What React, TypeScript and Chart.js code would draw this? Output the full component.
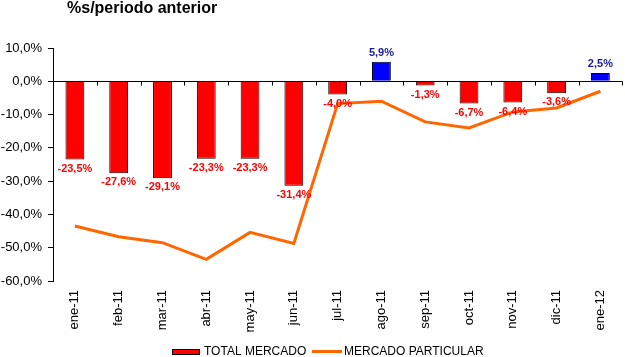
import React, { useEffect, useRef } from "react";
import { Chart, registerables } from "chart.js";

Chart.register(...registerables);

const categories = ["ene-11", "feb-11", "mar-11", "abr-11", "may-11", "jun-11", "jul-11", "ago-11", "sep-11", "oct-11", "nov-11", "dic-11", "ene-12"];
const totalMercado = [-23.5, -27.6, -29.1, -23.3, -23.3, -31.4, -4.0, 5.9, -1.3, -6.7, -6.4, -3.6, 2.5];
const mercadoParticular = [-43.5, -46.7, -48.5, -53.5, -45.4, -48.7, -6.7, -6.0, -12.2, -14.0, -9.2, -8.0, -3.0];
const yTicks = [10, 0, -10, -20, -30, -40, -50, -60];
const titleText = "%s/periodo anterior";
const legendLabels = ["TOTAL MERCADO", "MERCADO PARTICULAR"];

const FONT = "'Liberation Sans', Arial, sans-serif";
const RED = "#FF0000";
const BLUE = "#0000FF";
const ORANGE = "#FF6600";
const fmt = (v: number) => v.toFixed(1).replace(".", ",") + "%";

const overlayPlugin = {
  id: "overlay",
  afterDraw(chart: any) {
    const ctx = chart.ctx as CanvasRenderingContext2D;
    const area = chart.chartArea;
    const y = chart.scales.y;
    ctx.save();
    // zero line with ticks
    const y0 = Math.round(y.getPixelForValue(0)) + 0.5;
    ctx.strokeStyle = "#000";
    ctx.lineWidth = 1;
    ctx.beginPath();
    ctx.moveTo(area.left, y0);
    ctx.lineTo(area.right, y0);
    const step = (area.right - area.left) / categories.length;
    for (let i = 1; i <= categories.length; i++) {
      const tx = Math.round(area.left + step * i) + 0.5;
      ctx.moveTo(tx, y0);
      ctx.lineTo(tx, y0 + 4);
    }
    ctx.stroke();

    // data labels
    const meta = chart.getDatasetMeta(0);
    ctx.font = `bold 11px ${FONT}`;
    ctx.textAlign = "center";
    ctx.textBaseline = "middle";
    meta.data.forEach((bar: any, i: number) => {
      const v = totalMercado[i];
      if (v < 0) {
        ctx.fillStyle = RED;
        ctx.fillText(fmt(v), bar.x, bar.y + 9);
      } else {
        ctx.fillStyle = "#1a1a99";
        ctx.fillText(fmt(v), bar.x, bar.y - 9);
      }
    });

    // title
    ctx.font = `bold 16px ${FONT}`;
    ctx.fillStyle = "#000";
    ctx.textAlign = "left";
    ctx.textBaseline = "alphabetic";
    ctx.fillText(titleText, 67, 13);

    // legend
    ctx.font = `12px ${FONT}`;
    ctx.textBaseline = "alphabetic";
    const baseline = 354.5;
    ctx.fillStyle = RED;
    ctx.fillRect(172, 349, 28, 6);
    ctx.strokeStyle = "#000";
    ctx.lineWidth = 1;
    ctx.strokeRect(172.5, 349.5, 27, 5);
    ctx.fillStyle = "#000";
    ctx.fillText(legendLabels[0], 204, baseline);
    ctx.strokeStyle = ORANGE;
    ctx.lineWidth = 3;
    ctx.beginPath();
    ctx.moveTo(312, 351.5);
    ctx.lineTo(342, 351.5);
    ctx.stroke();
    ctx.fillStyle = "#000";
    ctx.fillText(legendLabels[1], 344, baseline);
    ctx.restore();
  },
};

export default function App() {
  const ref = useRef<HTMLCanvasElement>(null);
  useEffect(() => {
    document.body.style.margin = "0";
    const canvas = ref.current!;
    const chart = new Chart(canvas, {
      type: "bar",
      data: {
        labels: categories,
        datasets: [
          {
            type: "bar",
            label: legendLabels[0],
            data: totalMercado,
            backgroundColor: totalMercado.map((v) => (v < 0 ? RED : BLUE)),
            borderColor: "#000",
            borderWidth: 1,
            barPercentage: 0.43,
            categoryPercentage: 1,
            order: 2,
          },
          {
            type: "line",
            label: legendLabels[1],
            data: mercadoParticular,
            borderColor: ORANGE,
            backgroundColor: ORANGE,
            borderWidth: 3,
            pointRadius: 0,
            tension: 0,
            order: 1,
          },
        ],
      },
      options: {
        responsive: false,
        animation: false,
        layout: { padding: { top: 48, left: 0, right: 0, bottom: 0 } },
        plugins: {
          legend: { display: false },
          title: { display: false },
          tooltip: { enabled: false },
        },
        scales: {
          x: {
            grid: { display: false, drawTicks: false },
            border: { display: false },
            ticks: {
              color: "#000",
              font: { family: FONT, size: 13 },
              minRotation: 90,
              maxRotation: 90,
              padding: 9,
              autoSkip: false,
            },
            afterFit: (scale: any) => {
              scale.height = 76;
            },
          },
          y: {
            min: -60,
            max: 10,
            afterBuildTicks: (scale: any) => {
              scale.ticks = yTicks.map((v) => ({ value: v }));
            },
            grid: { drawOnChartArea: false, tickLength: 5, color: "#000" },
            border: { display: true, color: "#000" },
            ticks: {
              color: "#000",
              font: { family: FONT, size: 13 },
              padding: 6,
              callback: (v: any) => fmt(Number(v)),
            },
            afterFit: (scale: any) => {
              scale.width = 53;
            },
          },
        },
      },
      plugins: [overlayPlugin],
    });
    return () => chart.destroy();
  }, []);
  return <canvas ref={ref} width={625} height={357} style={{ display: "block" }} />;
}
